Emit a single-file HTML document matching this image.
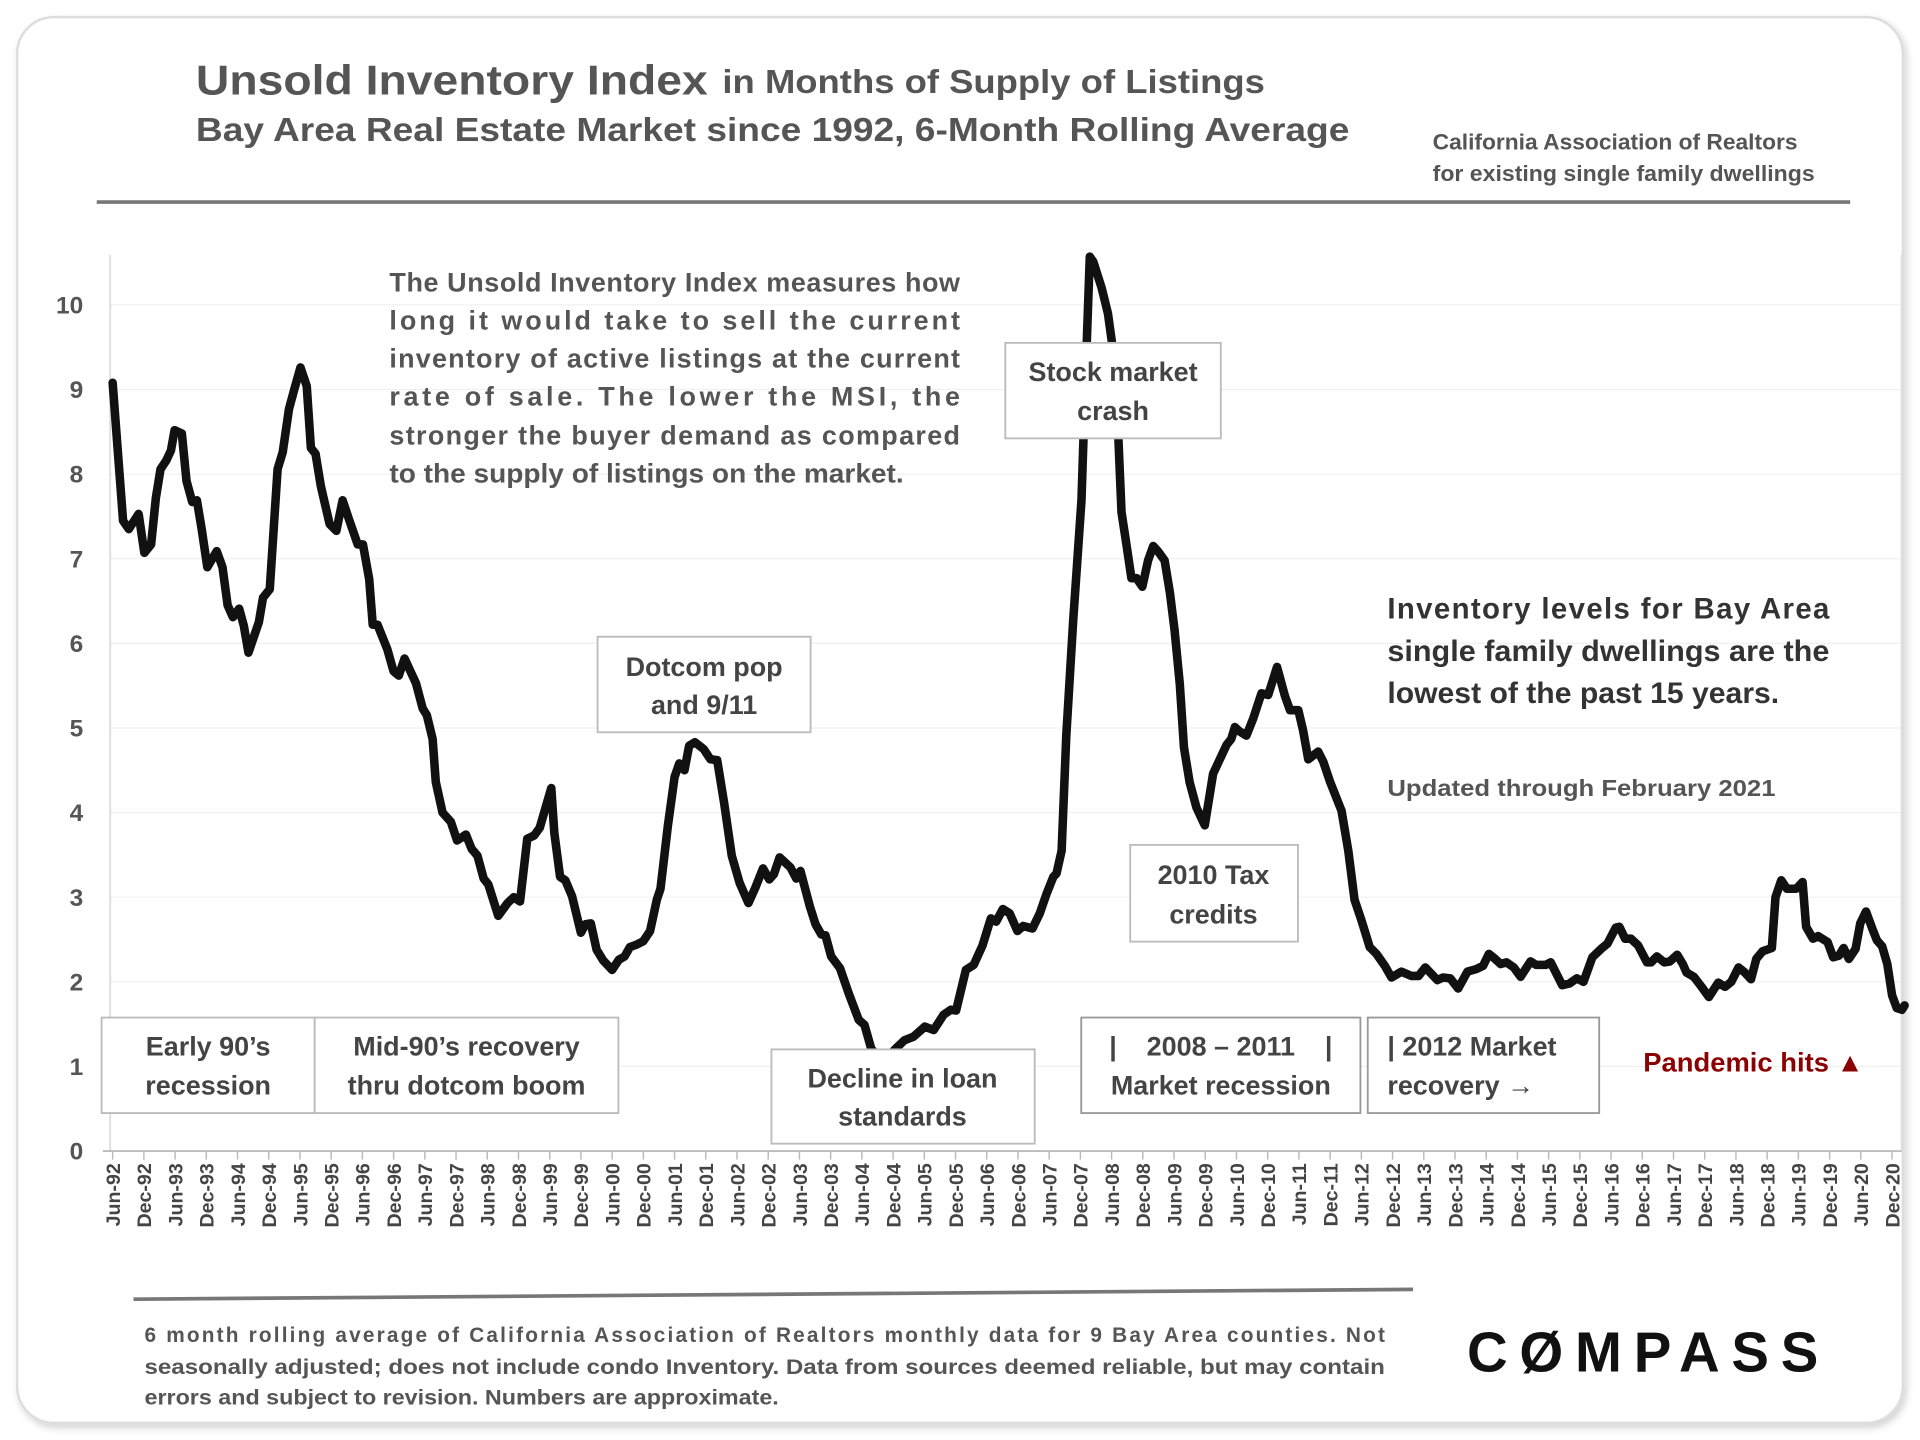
<!DOCTYPE html>
<html><head><meta charset="utf-8"><style>
html,body{margin:0;padding:0;background:#fff;}
svg{display:block;}
text{font-family:"Liberation Sans",sans-serif;font-weight:bold;}
</style></head><body>
<svg id="chart" width="1920" height="1440" viewBox="0 0 1568 1176" preserveAspectRatio="none" xmlns="http://www.w3.org/2000/svg">
<defs><filter id="sh" x="-5%" y="-5%" width="110%" height="110%"><feDropShadow dx="2" dy="3" stdDeviation="3" flood-color="#000" flood-opacity="0.18"/></filter></defs>
<rect x="14" y="14" width="1540" height="1148" rx="30" fill="#fff" stroke="#ddd" stroke-width="2" filter="url(#sh)"/>
<g fill="#555">
<text x="160" y="77" font-size="34" textLength="418" lengthAdjust="spacingAndGlyphs">Unsold Inventory Index</text>
<text x="590" y="76" font-size="27" textLength="443" lengthAdjust="spacingAndGlyphs">in Months of Supply of Listings</text>
<text x="160" y="115" font-size="27" textLength="942" lengthAdjust="spacingAndGlyphs">Bay Area Real Estate Market since 1992, 6-Month Rolling Average</text>
</g>
<g fill="#555" font-size="18">
<text x="1170" y="122" textLength="298" lengthAdjust="spacingAndGlyphs">California Association of Realtors</text>
<text x="1170" y="148" textLength="312" lengthAdjust="spacingAndGlyphs">for existing single family dwellings</text>
</g>
<line x1="79" y1="165" x2="1511" y2="165" stroke="#777" stroke-width="3"/>
<g id="grid"></g>
<g id="yaxis"></g>
<g id="xaxis"></g>
<g id="series"></g>
<g fill="#555" font-size="22">
<text x="318" y="238" textLength="466" lengthAdjust="spacing">The Unsold Inventory Index measures how</text>
<text x="318" y="269" textLength="466" lengthAdjust="spacing">long it would take to sell the current</text>
<text x="318" y="300" textLength="466" lengthAdjust="spacing">inventory of active listings at the current</text>
<text x="318" y="331" textLength="466" lengthAdjust="spacing">rate of sale. The lower the MSI, the</text>
<text x="318" y="363" textLength="466" lengthAdjust="spacing">stronger the buyer demand as compared</text>
<text x="318" y="394" textLength="420" lengthAdjust="spacingAndGlyphs">to the supply of listings on the market.</text>
</g>
<g font-size="22" fill="#444" text-anchor="middle">
<g><rect x="821" y="280" width="176" height="78" fill="#fff" stroke="#bbb" stroke-width="1.5"/><text x="909" y="311">Stock market</text><text x="909" y="343">crash</text></g>
<g><rect x="488" y="520" width="174" height="78" fill="#fff" stroke="#bbb" stroke-width="1.5"/><text x="575" y="552">Dotcom pop</text><text x="575" y="583">and 9/11</text></g>
<g><rect x="923" y="690" width="137" height="79" fill="#fff" stroke="#bbb" stroke-width="1.5"/><text x="991" y="722">2010 Tax</text><text x="991" y="754">credits</text></g>
<g><rect x="83" y="831" width="174" height="78" fill="#fff" stroke="#bbb" stroke-width="1.5"/><text x="170" y="862">Early 90’s</text><text x="170" y="894">recession</text></g>
<g><rect x="257" y="831" width="248" height="78" fill="#fff" stroke="#bbb" stroke-width="1.5"/><text x="381" y="862">Mid-90’s recovery</text><text x="381" y="894">thru dotcom boom</text></g>
<g><rect x="630" y="857" width="215" height="77" fill="#fff" stroke="#bbb" stroke-width="1.5"/><text x="737" y="888">Decline in loan</text><text x="737" y="919">standards</text></g>
<g><rect x="883" y="831" width="228" height="78" fill="#fff" stroke="#999" stroke-width="1.5"/><text x="997" y="862" xml:space="preserve">|    2008 – 2011    |</text><text x="997" y="894">Market recession</text></g>
<g text-anchor="start"><rect x="1117" y="831" width="189" height="78" fill="#fff" stroke="#999" stroke-width="1.5"/><text x="1133" y="862">| 2012 Market</text><text x="1133" y="894">recovery →</text></g>
</g>
<text x="1342" y="875" font-size="22" fill="#8b0000" textLength="180" lengthAdjust="spacingAndGlyphs">Pandemic hits ▲</text>
<g fill="#333" font-size="24">
<text x="1133" y="505" textLength="361" lengthAdjust="spacing">Inventory levels for Bay Area</text>
<text x="1133" y="540" textLength="361" lengthAdjust="spacingAndGlyphs">single family dwellings are the</text>
<text x="1133" y="574" textLength="320" lengthAdjust="spacingAndGlyphs">lowest of the past 15 years.</text>
</g>
<text x="1133" y="650" font-size="19" fill="#555" textLength="317" lengthAdjust="spacingAndGlyphs">Updated through February 2021</text>
<line x1="109" y1="1061" x2="1154" y2="1053" stroke="#777" stroke-width="3"/>
<g fill="#555" font-size="17">
<text x="118" y="1096" textLength="1013" lengthAdjust="spacing">6 month rolling average of California Association of Realtors monthly data for 9 Bay Area counties. Not</text>
<text x="118" y="1122" textLength="1013" lengthAdjust="spacingAndGlyphs">seasonally adjusted; does not include condo Inventory. Data from sources deemed reliable, but may contain</text>
<text x="118" y="1147" textLength="518" lengthAdjust="spacingAndGlyphs">errors and subject to revision. Numbers are approximate.</text>
</g>
<text x="1198" y="1120" font-size="46" fill="#111" textLength="287" lengthAdjust="spacing">CØMPASS</text>
</svg>
<script>
const monthIdx = [0,2,3.1,5,6.1,7.4,8.3,9.2,10.3,11.2,11.9,13.3,14.2,15.3,16.2,17.1,18.2,20,21.1,22.1,23.1,24.3,25.2,26.1,28.1,28.9,30.2,31.7,32.7,33.9,34.9,36.1,37.3,38.1,39,40,41.7,43,44.2,45.4,47.1,48.1,49.3,50,50.9,52.8,54,55,56.1,58.3,59.6,60.4,61.5,62.1,63.4,65,66.2,67.9,69,70.1,71.3,72.2,74.1,75.9,77.1,78.3,79.7,81,82.1,84.3,84.9,86,87,88.3,90,90.9,91.9,93,94.3,96,97.3,98.4,99.4,100.7,102,103.3,104.6,105.3,106.7,108,108.9,109.9,110.8,111.9,113.6,114.9,116.2,117.5,119,120.5,122.2,123.5,125,126.2,127.1,128.2,130.3,131.4,132.2,134,135.1,136.2,137,138.1,139.8,141.5,143.4,144.5,145.8,148,150.5,152.2,153.9,156.1,157.8,159.7,161.1,162.1,164,165.5,167.2,168.8,169.8,171.1,172.4,173.9,175,176.8,178.2,179.5,180.8,181.4,182.4,183.3,184.6,186.2,186.9,187.8,188.5,190.1,191.3,192.3,193.3,193.9,194.9,195.8,196.8,197.9,199,200,200.9,202.2,203.2,204.1,205.1,205.9,207,208.3,209.9,211.5,213.1,214.1,215,215.7,216.6,217.9,219.2,220.8,222.1,223.8,225.3,226.3,227.9,228.8,229.8,231.7,232.7,234,236.2,237.5,238.7,240,241.6,242.9,244.5,245.8,247.7,249.6,251,252.3,254.6,255.7,257.1,258.6,260.4,262.1,263.4,264.5,265.7,266.8,267.9,269.3,270.6,272.5,273.6,275.4,276.4,278.6,280,281.4,282.7,284.4,286.1,287.3,288.9,289.6,290.7,291.8,293.2,294.9,295.7,296.8,298.2,299.3,300.7,301.8,302.5,303.9,305.4,306.8,308.6,309.9,311.1,312.5,313.7,314.9,315.9,317.1,318.9,319.6,320.7,321.8,323.6,324.8,325.5,326.8,327.8,329.6,330.7,331.8,332.7,333.7,335,335.9,337,338.2,339.1,340.1,341.1,342,342.9,343.9,344.4];
const msi = [9.08,7.45,7.35,7.53,7.07,7.17,7.72,8.06,8.16,8.28,8.52,8.48,7.92,7.67,7.69,7.35,6.90,7.09,6.90,6.45,6.31,6.41,6.21,5.89,6.25,6.54,6.64,8.06,8.26,8.77,9.00,9.26,9.04,8.31,8.24,7.86,7.41,7.33,7.69,7.47,7.17,7.17,6.76,6.22,6.22,5.93,5.67,5.62,5.82,5.53,5.23,5.15,4.87,4.36,4.00,3.89,3.67,3.74,3.57,3.49,3.22,3.15,2.78,2.93,3.00,2.95,3.69,3.73,3.82,4.29,3.76,3.24,3.20,3.01,2.58,2.68,2.69,2.38,2.25,2.14,2.26,2.30,2.41,2.44,2.48,2.60,2.97,3.10,3.84,4.42,4.58,4.50,4.79,4.83,4.75,4.63,4.62,4.12,3.49,3.17,2.93,3.11,3.34,3.21,3.27,3.47,3.35,3.22,3.31,2.89,2.68,2.56,2.55,2.30,2.16,1.86,1.55,1.49,1.21,1.05,1.21,1.31,1.35,1.47,1.43,1.61,1.67,1.66,2.14,2.20,2.43,2.75,2.71,2.86,2.81,2.60,2.66,2.63,2.81,3.04,3.24,3.28,3.55,4.91,6.26,7.69,8.98,10.57,10.51,10.20,9.90,9.45,8.44,7.55,7.15,6.77,6.77,6.67,6.98,7.15,7.09,6.98,6.60,6.16,5.52,4.77,4.36,4.06,3.85,4.46,4.67,4.80,4.87,5.01,4.96,4.91,5.11,5.41,5.39,5.72,5.38,5.21,5.21,4.97,4.63,4.72,4.60,4.36,4.02,3.55,2.97,2.73,2.41,2.33,2.19,2.05,2.12,2.07,2.07,2.17,2.02,2.05,2.04,1.92,2.12,2.15,2.19,2.33,2.27,2.21,2.23,2.17,2.06,2.24,2.20,2.20,2.23,1.96,1.98,2.04,2.00,2.29,2.39,2.45,2.64,2.65,2.51,2.51,2.43,2.23,2.23,2.30,2.23,2.24,2.32,2.21,2.11,2.06,1.94,1.82,1.99,1.94,2.00,2.17,2.11,2.03,2.27,2.36,2.40,3.00,3.20,3.10,3.10,3.18,2.65,2.51,2.54,2.47,2.29,2.31,2.40,2.27,2.39,2.69,2.83,2.63,2.49,2.42,2.21,1.84,1.69,1.67,1.72];
const yTicks = [0,1,2,3,4,5,6,7,8,9,10];
const tickMonths = ["Jun","Dec"];
const firstYear = 92, lastYear = 20;

const NS = "http://www.w3.org/2000/svg";
const X0 = 92, PX_PER_MONTH = 4.249, Y0 = 940, PX_PER_UNIT = 69.1;
function xScale(t){ return X0 + t * PX_PER_MONTH; }
function yScale(v){ return Y0 - v * PX_PER_UNIT; }
function mk(tag, attrs){ const e = document.createElementNS(NS, tag); for (const k in attrs) e.setAttribute(k, attrs[k]); return e; }

const grid = document.getElementById('grid');
const yaxis = document.getElementById('yaxis');
yTicks.forEach(v => {
  const y = yScale(v);
  if (v > 0) {
    const gl = mk('line', {x1: 90, x2: 1553, y1: y, y2: y, stroke: '#f0f0f0', 'stroke-width': 1});
    
    
    grid.appendChild(gl);
  }
  const tl = mk('text', {x: 68, y: y + 7, 'text-anchor': 'end', 'font-size': 20, fill: '#555'});
  tl.textContent = String(v);
  
  
  yaxis.appendChild(tl);
});
const yl = mk('line', {x1: 90, x2: 90, y1: 208, y2: 940, stroke: '#ddd', 'stroke-width': 1.5});


yaxis.appendChild(yl);

const xaxis = document.getElementById('xaxis');
const xl = mk('line', {x1: 84, x2: 1553, y1: 940, y2: 940, stroke: '#bbb', 'stroke-width': 1.5});


xaxis.appendChild(xl);
let t = 0, yr = firstYear;
while (true) {
  for (let i = 0; i < tickMonths.length; i++) {
    const x = xScale(t);
    const tk = mk('line', {x1: x, x2: x, y1: 940, y2: 947, stroke: '#bbb', 'stroke-width': 1.2});
    
    
    xaxis.appendChild(tk);
    const lbl = mk('text', {x: x + 6, y: 950, 'text-anchor': 'end', 'font-size': 16, fill: '#444', transform: 'rotate(-90 ' + (x + 6) + ' 950)'});
    lbl.textContent = tickMonths[i] + '-' + String(yr % 100).padStart(2, '0');
    
    
    xaxis.appendChild(lbl);
    t += 6;
    if (yr === lastYear && i === 1) break;
  }
  if (yr === lastYear) break;
  yr = (yr + 1) % 100;
}
const xr = mk('line', {x1: 1553, x2: 1553, y1: 208, y2: 940, stroke: '#ddd', 'stroke-width': 1.5});


xaxis.appendChild(xr);

const series = document.getElementById('series');
let d = '';
monthIdx.forEach((m, i) => { d += (i ? 'L' : 'M') + xScale(m).toFixed(1) + ',' + yScale(msi[i]).toFixed(1); });
const path = mk('path', {d: d, fill: 'none', stroke: '#111', 'stroke-width': 7, 'stroke-linejoin': 'round', 'stroke-linecap': 'round'});


series.appendChild(path);
</script>
</body></html>
